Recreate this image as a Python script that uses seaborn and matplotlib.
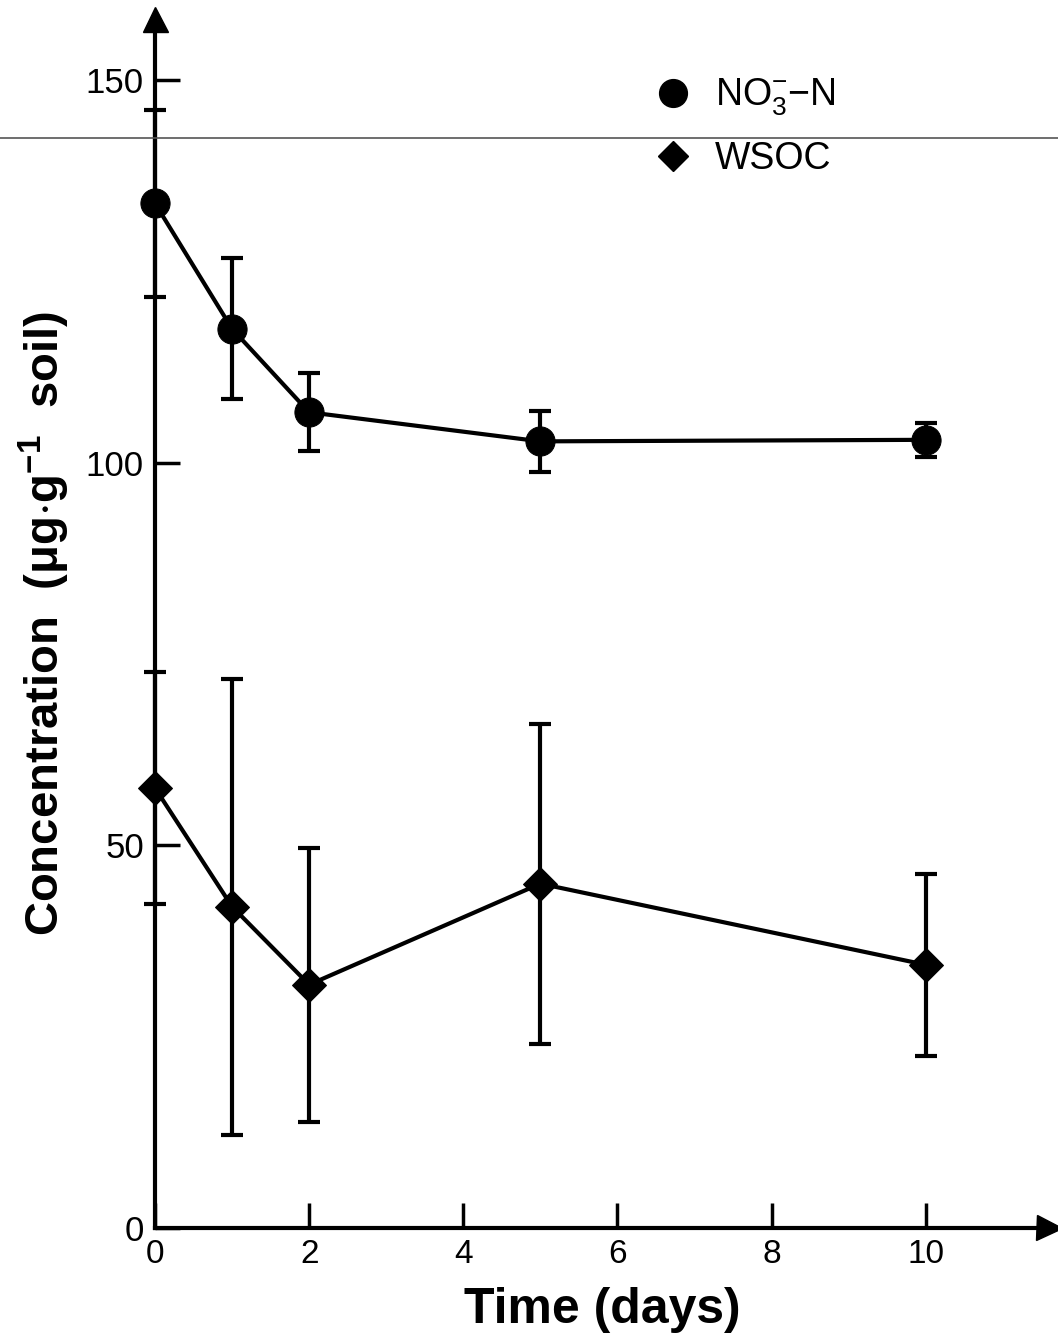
import matplotlib
matplotlib.use("Agg")
import matplotlib.pyplot as plt
import seaborn as sns
import pandas as pd
from matplotlib.lines import Line2D

# Data
days = [0, 1, 2, 5, 10]
no3_values = [133.9, 117.5, 106.6, 102.8, 103.0]
no3_errors = [12.2, 9.2, 5.1, 4.0, 2.2]
wsoc_values = [57.5, 42.0, 31.8, 45.0, 34.4]
wsoc_errors = [15.1, 29.8, 17.9, 20.9, 11.9]
x_ticks = [0, 2, 4, 6, 8, 10]
y_ticks = [0, 50, 100, 150]
y_tick_labels = ["0", "50", "100", "150"]

sns.set_theme(style="white")
plt.rcParams['font.family'] = ['Liberation Sans', 'DejaVu Sans']
plt.rcParams['mathtext.fontset'] = 'custom'
plt.rcParams['mathtext.rm'] = 'Liberation Sans'
plt.rcParams['mathtext.it'] = 'Liberation Sans:italic'
plt.rcParams['mathtext.default'] = 'regular'
plt.rcParams['text.color'] = 'black'
plt.rcParams['axes.labelcolor'] = 'black'
plt.rcParams['xtick.color'] = 'black'
plt.rcParams['ytick.color'] = 'black'

df = pd.DataFrame({
    "day": days * 2,
    "value": no3_values + wsoc_values,
    "series": ["NO3"] * len(days) + ["WSOC"] * len(days),
})

fig = plt.figure(figsize=(10.58, 13.44), dpi=100)
ax = fig.add_axes([0.1465, 0.0863, 0.845, 0.8996])

sns.lineplot(data=df, x="day", y="value", hue="series", style="series",
             markers={"NO3": "o", "WSOC": "D"}, dashes=False,
             palette={"NO3": "black", "WSOC": "black"},
             markersize=21, linewidth=3, legend=False, ax=ax, clip_on=False,
             markeredgecolor="black")
# make the diamonds a bit smaller than the circles
for ln in ax.lines:
    if ln.get_marker() == "D":
        ln.set_markersize(17)

ax.errorbar(days, no3_values, yerr=no3_errors, fmt="none", ecolor="black",
            elinewidth=3, capsize=8, capthick=3, clip_on=False)
ax.errorbar(days, wsoc_values, yerr=wsoc_errors, fmt="none", ecolor="black",
            elinewidth=3, capsize=8, capthick=3, clip_on=False)

ax.set_xlim(0, 11.6)
ax.set_ylim(0, 158)
for s in ["top", "right"]:
    ax.spines[s].set_visible(False)
for s in ["left", "bottom"]:
    ax.spines[s].set_linewidth(3)
    ax.spines[s].set_color("black")

# arrow heads
ax.plot(1, 0, marker=">", color="black", markersize=18, transform=ax.transAxes, clip_on=False)
ax.plot(0, 1, marker="^", color="black", markersize=18, transform=ax.transAxes, clip_on=False)

ax.set_xticks(x_ticks)
ax.set_xticklabels([str(t) for t in x_ticks])
ax.set_yticks(y_ticks)
ax.set_yticklabels(y_tick_labels)
ax.tick_params(axis="x", bottom=True, direction="in", length=18, width=2.5, labelsize=24, pad=8, colors="black")
ax.tick_params(axis="y", left=True, direction="in", length=18, width=2.5, labelsize=25, pad=8, colors="black")

ax.set_xlabel("Time (days)", fontsize=36, fontweight="bold", labelpad=12)
ax.set_ylabel(r"Concentration  ($\mu$g$\cdot$g$^{-1}$  soil)", fontsize=34, fontweight="bold", labelpad=10)

# legend
handles = [
    Line2D([], [], marker="o", color="black", linestyle="none", markersize=20),
    Line2D([], [], marker="D", color="black", linestyle="none", markersize=15),
]
ax.legend(handles, [r"NO$_3^{-}$$-$N", "WSOC"], loc="upper left",
          bbox_to_anchor=(0.5, 0.98), frameon=False, fontsize=27,
          handletextpad=0.1, labelspacing=0.6, labelcolor="black")

# scan artifact line across the page
fig.add_artist(Line2D([0, 1], [1 - 138 / 1344, 1 - 138 / 1344], color="#555555",
                      linewidth=1.2, transform=fig.transFigure))

fig.savefig("out.png", dpi=100)
